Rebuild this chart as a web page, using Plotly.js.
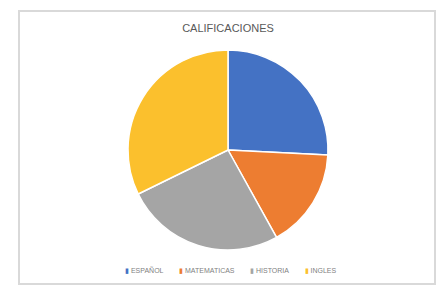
<!DOCTYPE html>
<html><head><meta charset="utf-8">
<script src="https://cdn.plot.ly/plotly-3.0.1.min.js"></script>
<style>html,body{margin:0;padding:0;background:#fff}#c{width:441px;height:291px}</style>
</head><body><div id="c"></div>
<script>
const categories = ["ESPAÑOL", "MATEMATICAS", "HISTORIA", "INGLES"];
const values = [8, 5, 8, 10];
const colors = ["#4472C4", "#ED7D31", "#A5A5A5", "#FBC02D"];
const titleText = "CALIFICACIONES";

const W = 441, H = 291;
const NB = "\u00A0";
const legendText = categories.map((c, i) =>
  `<span style="color:${colors[i]}">▮</span>${NB}${c}`).join(NB.repeat(8));

const data = [{
  type: "pie",
  labels: categories,
  values: values,
  sort: false,
  direction: "clockwise",
  rotation: 0,
  textinfo: "none",
  hoverinfo: "label+value",
  showlegend: false,
  marker: {colors: colors, line: {color: "#ffffff", width: 1.5}},
  domain: {x: [128/W, 328/W], y: [(H-250)/H, (H-50)/H]}
}];
const layout = {
  width: W, height: H,
  margin: {l: 0, r: 0, t: 0, b: 0},
  paper_bgcolor: "#ffffff",
  title: {text: titleText, font: {family: "Liberation Sans, Arial", size: 11, color: "#595959"}, x: 0.517, xanchor: "center", y: 1 - 28/H, yanchor: "middle"},
  showlegend: false,
  annotations: [{text: legendText, xref: "paper", yref: "paper", x: 230/W, y: 1 - 270/H,
    xanchor: "center", yanchor: "middle", showarrow: false,
    font: {family: "Liberation Sans, Arial", size: 7, color: "#7f7f7f"}}],
  shapes: [{type: "rect", xref: "paper", yref: "paper", x0: 19/W, x1: 435/W, y0: 1 - 284/H, y1: 1 - 11/H,
    line: {color: "#d9d9d9", width: 2}, fillcolor: "rgba(0,0,0,0)"}]
};
Plotly.newPlot("c", data, layout, {staticPlot: true});
</script></body></html>
